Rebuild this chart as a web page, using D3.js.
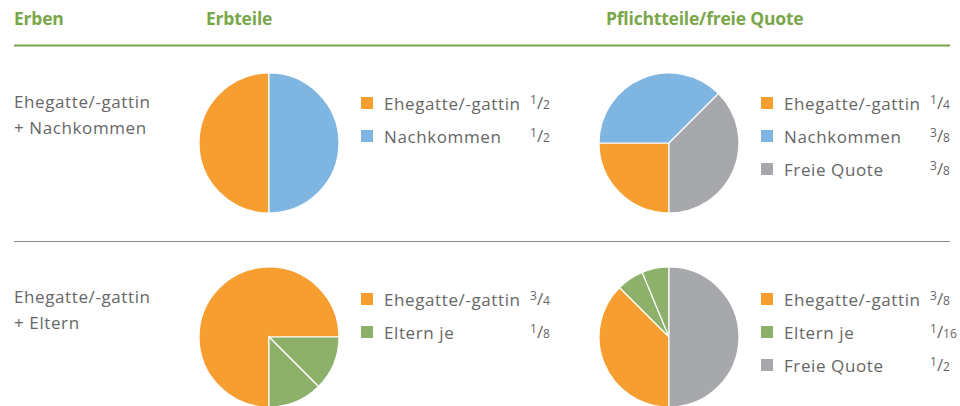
<!DOCTYPE html>
<html>
<head>
<meta charset="utf-8">
<script src="https://cdn.jsdelivr.net/npm/d3@7"></script>
<style>
  body { margin: 0; background: #fff; }
  text { font-family: 'Open Sans', 'Noto Sans', sans-serif; }
</style>
</head>
<body>
<svg id="chart" width="960" height="406"></svg>
<script>
const HEADERS = ['Erben', 'Erbteile', 'Pflichtteile/freie Quote']
const ROW_LABELS = [
  ['Ehegatte/-gattin', '+ Nachkommen'],
  ['Ehegatte/-gattin', '+ Eltern'],
]
// name, numerator, denominator, number of slices (Eltern je -> 2 parents)
const ERBTEILE_1 = [
  { name: 'Ehegatte/-gattin', num: 1, den: 2, n: 1 },
  { name: 'Nachkommen', num: 1, den: 2, n: 1 },
]
const PFLICHT_1 = [
  { name: 'Ehegatte/-gattin', num: 1, den: 4, n: 1 },
  { name: 'Nachkommen', num: 3, den: 8, n: 1 },
  { name: 'Freie Quote', num: 3, den: 8, n: 1 },
]
const ERBTEILE_2 = [
  { name: 'Ehegatte/-gattin', num: 3, den: 4, n: 1 },
  { name: 'Eltern je', num: 1, den: 8, n: 2 },
]
const PFLICHT_2 = [
  { name: 'Ehegatte/-gattin', num: 3, den: 8, n: 1 },
  { name: 'Eltern je', num: 1, den: 16, n: 2 },
  { name: 'Freie Quote', num: 1, den: 2, n: 1 },
]
const NAMES = ['Ehegatte/-gattin', 'Nachkommen', 'Eltern je', 'Freie Quote']
const COLORS = ['#f79e31', '#7fb5e1', '#8db06b', '#a7a8ac']

const color = d3.scaleOrdinal().domain(NAMES).range(COLORS)

const svg = d3.select('#chart')
const GREEN = '#7aa64a'
const TEXT = '#666666'
const R = 70

// kopfzeile
const headerX = [14, 206, 606]
svg.selectAll('text.head')
  .data(HEADERS)
  .enter()
  .append('text')
  .attr('class', 'head')
  .attr('x', (d, i) => headerX[i])
  .attr('y', 25)
  .attr('fill', GREEN)
  .attr('font-weight', 'bold')
  .attr('font-size', 17.5)
  .attr('letter-spacing', -0.2)
  .text(d => d)

svg.append('line')
  .attr('x1', 14).attr('x2', 950)
  .attr('y1', 45.5).attr('y2', 45.5)
  .attr('stroke', GREEN).attr('stroke-width', 2)

svg.append('line')
  .attr('x1', 14).attr('x2', 950)
  .attr('y1', 241.5).attr('y2', 241.5)
  .attr('stroke', '#8a8a8a').attr('stroke-width', 1)

const pie = d3.pie()
  .sort(null)
  .value(d => d.num / d.den)
  .startAngle(Math.PI)
  .endAngle(3 * Math.PI)

const arcCreator = d3.arc()
  .innerRadius(0)
  .outerRadius(R)

const slices = data => data.flatMap(d => d3.range(d.n).map(() => d))

const drawPie = (cx, cy, data) => {
  const g = svg.append('g')
    .attr('transform', `translate(${cx}, ${cy})`)
  g.selectAll('path')
    .data(pie(slices(data)))
    .enter()
    .append('path')
    .attr('d', arcCreator)
    .attr('fill', d => color(d.data.name))
    .attr('stroke', '#fff')
    .attr('stroke-width', 1.2)
}

// la légende
const drawLegend = (x, y, fracX, data) => {
  const g = svg.append('g')
    .attr('transform', `translate(${x}, ${y})`)
  const items = g.selectAll('g')
    .data(data)
    .enter()
    .append('g')
    .attr('transform', (d, i) => `translate(0, ${i * 33})`)
  items.append('rect')
    .attr('width', 12)
    .attr('height', 12)
    .attr('fill', d => color(d.name))
  items.append('text')
    .attr('x', 23)
    .attr('y', 12.5)
    .attr('font-size', 17)
    .attr('letter-spacing', 0.6)
    .attr('fill', TEXT)
    .text(d => d.name)
  const frac = items.append('text')
    .attr('x', fracX)
    .attr('y', 12)
    .attr('fill', TEXT)
  frac.append('tspan')
    .attr('font-size', 12)
    .attr('dy', -5)
    .text(d => d.num)
  frac.append('tspan')
    .attr('font-size', 17)
    .attr('dy', 5)
    .text('/')
  frac.append('tspan')
    .attr('font-size', 12)
    .attr('dy', 0)
    .text(d => d.den)
}

const rows = [
  { cy: 143, labelY: 108, erb: ERBTEILE_1, pflicht: PFLICHT_1, legY: 97 },
  { cy: 337, labelY: 303, erb: ERBTEILE_2, pflicht: PFLICHT_2, legY: 293 },
]

rows.forEach((row, i) => {
  svg.selectAll(null)
    .data(ROW_LABELS[i])
    .enter()
    .append('text')
    .attr('x', 14)
    .attr('y', (d, j) => row.labelY + j * 26)
    .attr('font-size', 17)
    .attr('letter-spacing', 0.6)
    .attr('fill', TEXT)
    .text(d => d)
  drawPie(269, row.cy, row.erb)
  drawPie(669, row.cy, row.pflicht)
  drawLegend(361, row.legY, 169, row.erb)
  drawLegend(761, row.legY, 169, row.pflicht)
})
</script>
</body>
</html>
